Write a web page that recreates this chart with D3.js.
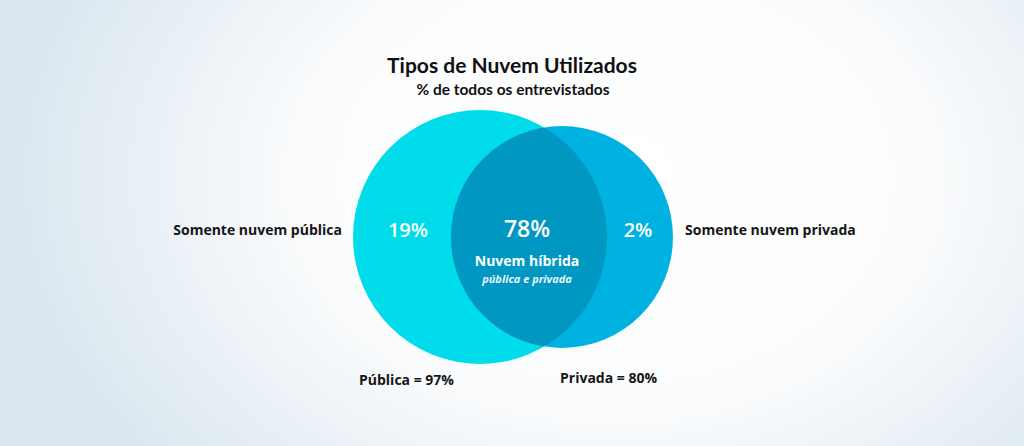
<!DOCTYPE html>
<html lang="pt">
<head>
    <meta charset="UTF-8">
    <title>Tipos de Nuvem Utilizados</title>
    <script src="https://d3js.org/d3.v7.min.js"></script>
    <style>
        html, body {
            margin: 0;
            padding: 0;
            width: 100%;
            height: 100%;
            overflow: hidden;
        }
        svg {
            display: block;
            font-family: "Open Sans", Lato, sans-serif;
        }
        .title { font-family: Lato, "Open Sans", sans-serif; font-weight: bold; fill: #111; }
        .side-label { font-weight: bold; fill: #161616; }
        .inner { fill: #fff; }
    </style>
</head>
<body>
    <svg></svg>

    <script>
        // data
        const sets = ["Pública", "Privada"];
        const setTotals = [97, 80];
        const regionNames = ["Somente nuvem pública", "Nuvem híbrida", "Somente nuvem privada"];
        const regionValues = [19, 78, 2];
        const titleText = "Tipos de Nuvem Utilizados";
        const subtitleText = "% de todos os entrevistados";
        const hybridNote = "pública e privada";

        const width = 1024, height = 446;
        const svg = d3.select("svg").attr("width", width).attr("height", height);

        // background wash
        const defs = svg.append("defs");
        const bg = defs.append("radialGradient")
            .attr("id", "bg")
            .attr("cx", 0.6).attr("cy", 0.4).attr("r", 0.6)
            .attr("gradientTransform", "translate(0.6,0.4) scale(1,1.7) translate(-0.6,-0.4)");
        bg.append("stop").attr("offset", "0%").attr("stop-color", "#ffffff");
        bg.append("stop").attr("offset", "50%").attr("stop-color", "#fbfcfd");
        bg.append("stop").attr("offset", "100%").attr("stop-color", "#d9e6ef");
        svg.append("rect").attr("width", width).attr("height", height).attr("fill", "url(#bg)");

        // scales
        const x = d3.scalePoint().domain(sets).range([480, 562]);
        const r = d3.scalePow().exponent(0.7).domain([0, d3.max(setTotals)]).range([0, 127]);
        const cy = 237;

        const circles = sets.map((s, i) => ({ name: s, total: setTotals[i], cx: x(s), r: r(setTotals[i]) }));

        defs.append("clipPath").attr("id", "clipLeft")
            .append("circle")
            .attr("cx", circles[0].cx).attr("cy", cy).attr("r", circles[0].r);

        const fills = ["#00dcea", "#00b2e1"];
        svg.append("g").selectAll("circle")
            .data(circles)
            .join("circle")
            .attr("cx", d => d.cx)
            .attr("cy", cy)
            .attr("r", d => d.r)
            .attr("fill", (d, i) => fills[i]);

        // overlap
        svg.append("circle")
            .attr("clip-path", "url(#clipLeft)")
            .attr("cx", circles[1].cx)
            .attr("cy", cy)
            .attr("r", circles[1].r)
            .attr("fill", "#0098c2");

        // titles
        svg.append("text").attr("class", "title")
            .attr("x", 512).attr("y", 73)
            .attr("text-anchor", "middle")
            .attr("font-size", 21)
            .text(titleText);
        svg.append("text").attr("class", "title")
            .attr("x", 513).attr("y", 95)
            .attr("text-anchor", "middle")
            .attr("font-size", 15.5)
            .text(subtitleText);

        // region values
        const leftEdge = circles[0].cx - circles[0].r;
        const rightEdge = circles[1].cx + circles[1].r;
        const ovL = circles[1].cx - circles[1].r;
        const ovR = circles[0].cx + circles[0].r;
        const regionX = [(leftEdge + ovL) / 2 + 6, (ovL + ovR) / 2 - 2, (ovR + rightEdge) / 2 - 2];
        const valueSizes = [20, 23, 20];

        svg.append("g").selectAll("text")
            .data(regionValues)
            .join("text")
            .attr("class", "inner")
            .attr("x", (d, i) => regionX[i])
            .attr("y", 237)
            .attr("text-anchor", "middle")
            .attr("font-size", (d, i) => valueSizes[i])
            .attr("font-weight", 600)
            .text(d => d + "%");

        svg.append("text").attr("class", "inner")
            .attr("x", regionX[1]).attr("y", 266)
            .attr("text-anchor", "middle")
            .attr("font-size", 14)
            .attr("font-weight", "bold")
            .text(regionNames[1]);
        svg.append("text").attr("class", "inner")
            .attr("x", regionX[1]).attr("y", 283)
            .attr("text-anchor", "middle")
            .attr("font-size", 11)
            .attr("font-weight", "bold")
            .attr("font-style", "italic")
            .attr("opacity", 0.9)
            .text(hybridNote);

        // outside labels
        svg.append("text").attr("class", "side-label")
            .attr("x", 342).attr("y", 235)
            .attr("text-anchor", "end")
            .attr("font-size", 14)
            .text(regionNames[0]);
        svg.append("text").attr("class", "side-label")
            .attr("x", 685).attr("y", 235)
            .attr("font-size", 14)
            .text(regionNames[2]);

        const totalX = [359, 560];
        svg.append("g").selectAll("text")
            .data(circles)
            .join("text")
            .attr("class", "side-label")
            .attr("x", (d, i) => totalX[i])
            .attr("y", (d, i) => 385 - i * 2)
            .attr("font-size", 14)
            .text(d => `${d.name} = ${d.total}%`);
    </script>
</body>
</html>
